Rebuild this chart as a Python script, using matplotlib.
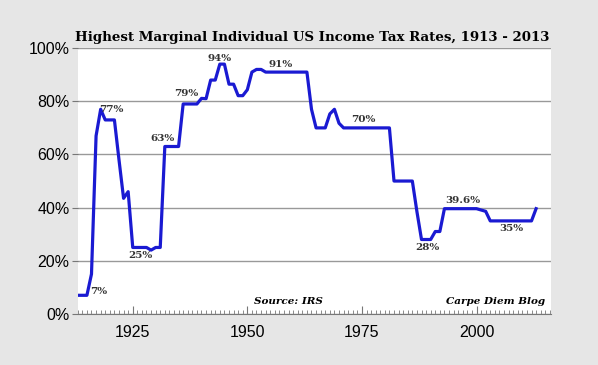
import matplotlib.pyplot as plt
from matplotlib.ticker import MultipleLocator, FuncFormatter

years = list(range(1913, 2014))
rates = [7, 7, 7, 15, 67, 77, 73, 73, 73, 58, 43.5, 46, 25, 25, 25, 25, 24, 25, 25,
         63, 63, 63, 63, 79, 79, 79, 79, 81.1, 81, 88, 88, 94, 94, 86.45, 86.45,
         82.13, 82.13, 84.36, 91, 92, 92, 91, 91, 91, 91, 91, 91, 91, 91, 91, 91,
         77, 70, 70, 70, 75.25, 77, 71.75, 70, 70, 70, 70, 70, 70, 70, 70, 70, 70,
         70, 50, 50, 50, 50, 50, 38.5, 28, 28, 28, 31, 31,
         39.6, 39.6, 39.6, 39.6, 39.6, 39.6, 39.6, 39.6, 39.1, 38.6,
         35, 35, 35, 35, 35, 35, 35, 35, 35, 35, 39.6]

# (text, x year, y value)
labels = [("7%", 1917.5, 8.5), ("77%", 1920.3, 77), ("25%", 1926.7, 22),
          ("63%", 1931.6, 66), ("79%", 1936.7, 83), ("94%", 1944.0, 96),
          ("91%", 1957.3, 94), ("70%", 1975.3, 73), ("28%", 1989.3, 25),
          ("39.6%", 1997.0, 42.5), ("35%", 2007.7, 32)]

serif = "DejaVu Serif"

fig = plt.figure(figsize=(5.98, 3.65), dpi=100, facecolor="#e6e6e6")
ax = fig.add_axes([0.130, 0.140, 0.791, 0.728])
ax.set_facecolor("white")

ax.plot(years, rates, color="#1a1ad2", linewidth=2.3, zorder=3)

ax.set_xlim(1913, 2016.2)
ax.set_ylim(0, 100)
ax.yaxis.set_major_locator(MultipleLocator(20))
ax.yaxis.set_major_formatter(FuncFormatter(lambda v, p: f"{v:.0f}%"))
ax.xaxis.set_major_locator(MultipleLocator(25))
ax.xaxis.set_minor_locator(MultipleLocator(1))
ax.grid(axis="y", color="#999999", linewidth=1.0, zorder=1)

for s in ["top", "right", "left"]:
    ax.spines[s].set_visible(False)
ax.spines["bottom"].set_color("#777777")
ax.tick_params(axis="y", length=4, color="#777777", labelsize=11.5, pad=2)
ax.tick_params(axis="x", which="major", length=6, direction="in", color="#777777",
               labelsize=11.5, pad=8)
ax.tick_params(axis="x", which="minor", length=3, direction="in", color="#777777")
for t in ax.get_xticklabels() + ax.get_yticklabels():
    t.set_fontfamily("Liberation Sans")

for text, x, y in labels:
    ax.text(x, y, text, ha="center", va="center", fontsize=7.5, fontweight="bold",
            family=serif, color="#333333", zorder=4)

ax.text(1959, 4.5, "Source: IRS", ha="center", va="center", fontsize=7.5,
        fontweight="bold", fontstyle="italic", family=serif)
ax.text(2004.2, 4.5, "Carpe Diem Blog", ha="center", va="center", fontsize=7.5,
        fontweight="bold", fontstyle="italic", family=serif)

fig.text(0.522, 0.896, "Highest Marginal Individual US Income Tax Rates, 1913 - 2013",
         ha="center", va="center", fontsize=9.6, fontweight="bold", family=serif)

fig.savefig("out.png", dpi=100, facecolor=fig.get_facecolor())
